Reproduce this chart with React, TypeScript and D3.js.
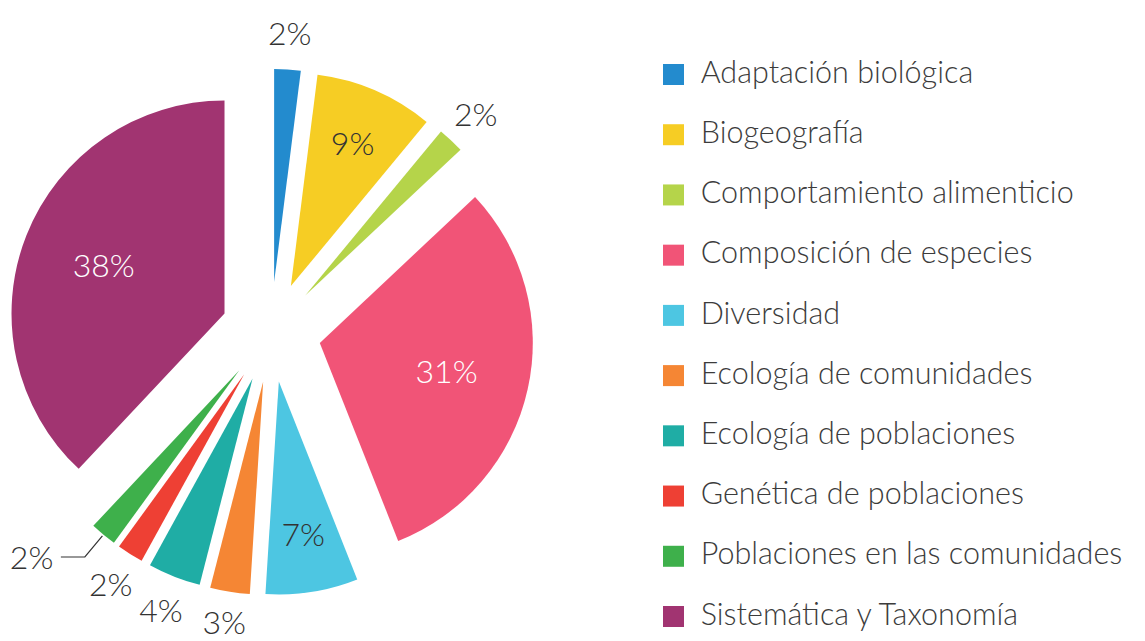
import React from 'react';
import * as d3 from 'd3';

// categories, in the order the slices run clockwise from 12 o'clock
const categories = [
  'Adaptación biológica',
  'Biogeografía',
  'Comportamiento alimenticio',
  'Composición de especies',
  'Diversidad',
  'Ecología de comunidades',
  'Ecología de poblaciones',
  'Genética de poblaciones',
  'Poblaciones en las comunidades',
  'Sistemática y Taxonomía',
];
const shares = [2, 9, 2, 31, 7, 3, 4, 2, 2, 38];
const colors = [
  '#238bce', '#f6cd24', '#b5d44a', '#f15477', '#4dc6e2',
  '#f58634', '#1fada5', '#ee4034', '#3eb04b', '#a13471',
];

const W = 1145;
const H = 641;
const cx = 271;
const cy = 332;
const R = 213;
const explode = 50;
const labelFont = 'Lato, "Open Sans", sans-serif';
const legendFont = 'Lato, "Noto Sans", sans-serif';

type Slice = d3.PieArcDatum<number>;

const polar = (r: number, a: number): [number, number] => [r * Math.sin(a), -r * Math.cos(a)];

const App = () => {
  const py = d3.pie<number>().sort(null).value(d => d);
  const slices: Slice[] = py(shares);
  const pieArc = d3.arc<Slice>().innerRadius(0).outerRadius(R);

  const legendY = d3.scaleLinear().domain([0, categories.length - 1]).range([74.5, 616.5]);

  // lowest a label centre may sit so the glyphs stay on the page
  const maxY = H - cy - 19;

  // work out label spots; outside labels that would hit a previous one get a leader line
  const placed: [number, number][] = [];
  const labels = slices.map((s, i) => {
    const mid = (s.startAngle + s.endAngle) / 2;
    const [ox, oy] = polar(explode, mid);
    const span = s.endAngle - s.startAngle;
    const txt = `${shares[i]}%`;
    if (shares[i] >= 5) {
      const r = span > Math.PI / 2 ? R * 0.61 : R * 0.73;
      const [x, y] = polar(r, mid);
      return { i, txt, x: x + ox, y: y + oy, anchor: 'middle', fill: shares[i] > 20 ? '#ffffff' : '#333333', leader: null as null | string };
    }
    const [x, y] = polar(R + 36, mid);
    const lx = x + ox;
    const ly = Math.min(y + oy, maxY);
    const hit = placed.some(([px, py2]) => Math.hypot(px - lx, py2 - ly) < 45);
    if (!hit) {
      placed.push([lx, ly]);
      return { i, txt, x: lx, y: ly, anchor: 'middle', fill: '#333333', leader: null as null | string };
    }
    const side = Math.sin(mid) < 0 ? -1 : 1;
    const [sx, sy] = polar(R + 1.5, mid);
    const [ex, ey] = polar(R + 29, mid);
    const p0: [number, number] = [sx + ox, sy + oy];
    const p1: [number, number] = [ex + ox, ey + oy];
    const p2: [number, number] = [p1[0] + side * 24, p1[1]];
    const leader = d3.line()([p0, p1, p2]);
    placed.push([p2[0], p2[1]]);
    return {
      i, txt, x: p2[0] + side * 7.5, y: p2[1] + 0.7,
      anchor: side < 0 ? 'end' : 'start', fill: '#333333', leader,
    };
  });

  return (
    <svg width={W} height={H} style={{ position: 'absolute', left: 0, top: 0, background: '#fff' }}>
      <g transform={`translate(${cx},${cy})`}>
        {slices.map((s, i) => {
          const mid = (s.startAngle + s.endAngle) / 2;
          const [ox, oy] = polar(explode, mid);
          return (
            <path key={categories[i]} d={pieArc(s) || ''} fill={colors[i]} transform={`translate(${ox},${oy})`} />
          );
        })}
        {labels.map(l => (
          <g key={'lab' + l.i}>
            {l.leader && <path d={l.leader} fill="none" stroke="#333" strokeWidth={1.2} />}
            <text
              x={l.x}
              y={l.y}
              dy="0.36em"
              textAnchor={l.anchor as any}
              fill={l.fill}
              fontFamily={labelFont}
              fontWeight={300}
              fontSize={32}
            >
              {l.txt}
            </text>
          </g>
        ))}
      </g>
      <g>
        {categories.map((c, i) => (
          <g key={c} transform={`translate(663,${legendY(i)})`}>
            <rect x={0} y={-10.5} width={21} height={21} fill={colors[i]} />
            <text
              x={0}
              y={8.2}
              transform="translate(37.7,0) scale(0.955,1)"
              fill="#3c3c3c"
              fontFamily={legendFont}
              fontWeight={300}
              fontSize={32}
            >
              {c}
            </text>
          </g>
        ))}
      </g>
    </svg>
  );
};

export default App;
